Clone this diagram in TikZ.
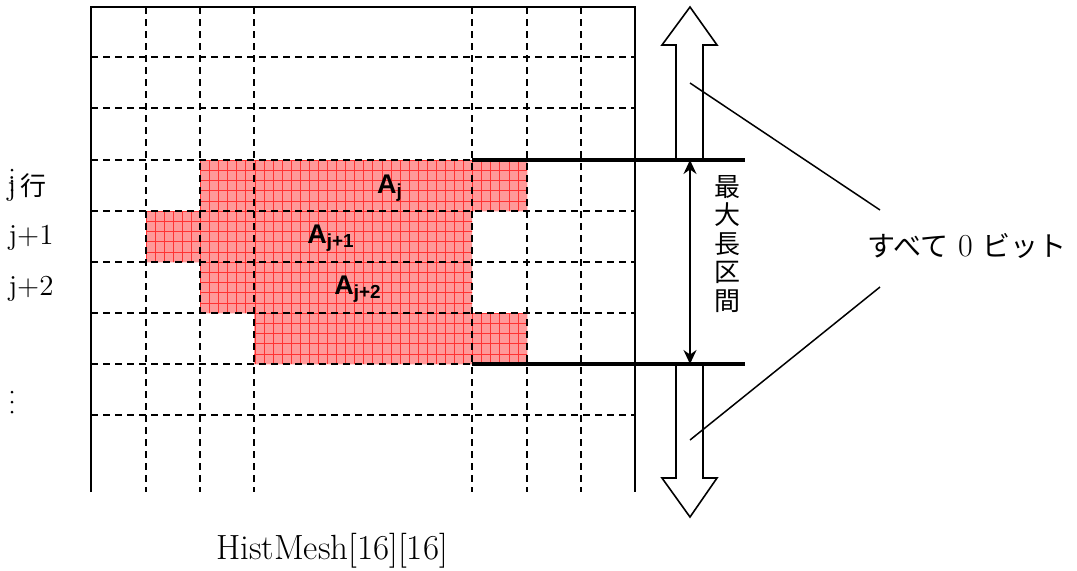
\documentclass[tikz,border=0pt]{standalone}
\usepackage{fontspec}
\usetikzlibrary{arrows.meta}
\newfontfamily\cjk{Noto Sans CJK JP}
\newfontfamily\helv{Liberation Sans}
\begin{document}
\begin{tikzpicture}[x=0.5pt,y=-0.5pt,
  frame/.style={line width=1pt},
  gridline/.style={line width=0.75pt, dash pattern=on 3.5pt off 2.5pt},
  thickline/.style={line width=1.8pt},
  hollow/.style={line width=0.8pt, fill=white},
  fine/.style={red!80, line width=0.3pt},
  lbl/.style={font=\fontsize{14.5}{17}\selectfont, inner sep=0pt},
  alab/.style={font=\helv\bfseries\fontsize{13.5}{16}\selectfont, inner sep=0pt},
  cjklbl/.style={font=\cjk\fontsize{13}{14.25}\selectfont, inner sep=0pt},
  leader/.style={line width=0.75pt},
  dotmark/.style={fill=black}]
\useasboundingbox (0,0) rectangle (1077,570);

% red cells
\fill[red!40] (200,160) rectangle (527,211) (146,211) rectangle (472,262)
              (200,262) rectangle (472,313) (254,313) rectangle (527,364);
\begin{scope}
\clip (200,160) rectangle (527,211) (146,211) rectangle (472,262)
      (200,262) rectangle (472,313) (254,313) rectangle (527,364);
\foreach \i in {0,...,42} \draw[fine] ({146+\i*9.07},160) -- ({146+\i*9.07},364);
\foreach \i in {0,...,20} \draw[fine] (146,{160+\i*10.2}) -- (527,{160+\i*10.2});
\end{scope}

% dashed grid
\foreach \x in {146,200,254,472,527,581} \draw[gridline] (\x,7) -- (\x,492);
\foreach \y in {57,108,160,211,262,313,364,415} \draw[gridline] (91,\y) -- (635,\y);

% frame
\draw[frame] (91,492) -- (91,7) -- (635,7) -- (635,492);

% hollow arrows
\draw[hollow] (676,160) -- (676,45) -- (662,45) -- (690,7) -- (717,45) -- (703,45) -- (703,160);
\draw[hollow] (676,364) -- (676,478) -- (662,478) -- (690,517) -- (717,478) -- (703,478) -- (703,364);

% thick boundary lines
\coordinate (tl) at (472,160); \coordinate (tr) at (745,160);
\coordinate (bl) at (472,364); \coordinate (br) at (745,364);
\draw[thickline] (tl) -- (tr);
\draw[thickline] (bl) -- (br);

% span arrow
\coordinate (st) at (690,160); \coordinate (sb) at (690,364);
\draw[line width=0.9pt, {Stealth[length=7pt,width=6.5pt]}-{Stealth[length=7pt,width=6.5pt]}] (st) -- (sb);

% labels in cells
\node[alab] (aj) at (390,188) {A\textsubscript{j}};
\node[alab] (aj1) at (331,238) {A\textsubscript{j+1}};
\node[alab] (aj2) at (358,289) {A\textsubscript{j+2}};

% left labels
\node[lbl, anchor=west] (rowj) at (7,188) {j\,{\cjk\fontsize{13}{14}\selectfont 行}};
\node[lbl] (rowj1) at (31,238) {j+1};
\node[lbl] (rowj2) at (31,289) {j+2};
% vertical ellipsis dots
\foreach \y in {170,181,190} \fill[dotmark] (12,\y) circle (0.75pt);
\foreach \y in {392,402,412} \fill[dotmark] (12,\y) circle (0.75pt);

% vertical text
\node[cjklbl, align=center] (maxlen) at (727,244) {最\\大\\長\\区\\間};

% right text
\node[font=\fontsize{16}{18}\selectfont, inner sep=0pt] (zero) at (967,246) {{\cjk\fontsize{14}{15}\selectfont すべて} 0 {\cjk\fontsize{14}{15}\selectfont ビット}};

% leaders
\coordinate (ua) at (690,83); \coordinate (ue) at (880,210);
\coordinate (da) at (690,440); \coordinate (de) at (880,287);
\draw[leader] (ua) -- (ue);
\draw[leader] (da) -- (de);

% caption
\node[font=\fontsize{17.5}{20}\selectfont, inner sep=0pt] (cap) at (332,551) {HistMesh[16][16]};
\end{tikzpicture}
\end{document}
